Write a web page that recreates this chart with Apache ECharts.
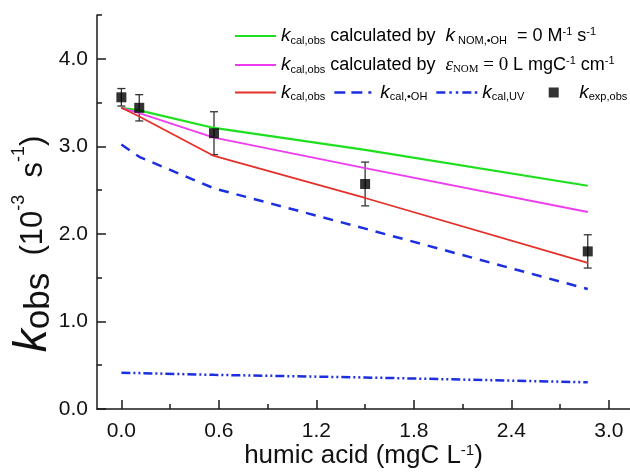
<!DOCTYPE html>
<html>
<head>
<meta charset="utf-8">
<script src="https://cdn.jsdelivr.net/npm/echarts@6/dist/echarts.min.js"></script>
<style>
  html, body { margin: 0; padding: 0; background: #fff; }
  #chart { width: 630px; height: 472px; }
</style>
</head>
<body>
<div id="chart"></div>
<script>
// humic acid concentrations (mgC/L)
const haConc = [0, 0.11, 0.57, 1.5, 2.87];

// model curves (10^-3 s^-1)
const kNoOH = [3.44, 3.41, 3.21, 2.96, 2.55];   // k_NOM,OH = 0
const kNoUV = [3.44, 3.38, 3.10, 2.75, 2.25];   // eps_NOM = 0
const kCalObs = [3.44, 3.34, 2.89, 2.41, 1.67];
const kCalOH = [3.02, 2.88, 2.52, 2.06, 1.37];
const kCalUV = [0.415, 0.41, 0.39, 0.36, 0.305];

// experiment
const kExp = [3.56, 3.44, 3.15, 2.57, 1.80];
const kExpErr = [0.10, 0.15, 0.245, 0.25, 0.19];

const xTicks = [0, 0.6, 1.2, 1.8, 2.4, 3.0];
const xMinor = [0.3, 0.9, 1.5, 2.1, 2.7];
const yTicks = [0, 1, 2, 3, 4];
const yMinor = [0.5, 1.5, 2.5, 3.5, 4.5];

const FONT = "Liberation Sans";

function pairs(ys) {
  return haConc.map((x, i) => [x, ys[i]]);
}

// legend icons drawn as paths in a 41x10 box (tiny corner specks fix the box size)
const BOX = "M0,0L0.01,0L0.01,0.01Z M41,10L40.99,10L40.99,9.99Z ";
const icons = {
  solid: "path://" + BOX + "M0,4H41V6H0Z",
  solidThick: "path://" + BOX + "M0,3.9H41V6.1H0Z",
  dash: "path://" + BOX + "M0,3.75H11V6.25H0Z M17,3.75H28V6.25H17Z M34,3.75H37V6.25H34Z",
  dashDot: "path://" + BOX + "M0,3.75H9V6.25H0Z M13,3.75H15.5V6.25H13Z M19.5,3.75H22V6.25H19.5Z M26,3.75H35V6.25H26Z M38.5,3.75H41V6.25H38.5Z",
  square: "path://" + BOX + "M15.5,0H25.5V10H15.5Z"
};

const chart = echarts.init(document.getElementById("chart"), null, { renderer: "canvas" });

const richLegend = {
  k: { fontFamily: FONT, fontStyle: "italic", fontSize: 19, color: "#000" },
  sub: { fontFamily: FONT, fontSize: 11, color: "#000", verticalAlign: "bottom", padding: [9, 0, 0, 0] },
  sup: { fontFamily: FONT, fontSize: 11, color: "#000", verticalAlign: "top", padding: [0, 0, 7, 0] },
  t: { fontFamily: FONT, fontSize: 18, color: "#000" },
  eps: { fontFamily: "Liberation Serif", fontStyle: "italic", fontSize: 19, color: "#000" },
  subs: { fontFamily: "Liberation Serif", fontSize: 11, color: "#000", verticalAlign: "bottom", padding: [9, 0, 0, 0] },
  serif: { fontFamily: "Liberation Serif", fontSize: 19, color: "#000" }
};

const legendNames = {
  noOH: "{k|k}{sub|cal,obs}{t| calculated by  }{k|k}{sub| NOM,•OH}{t|  = 0 M}{sup|-1}{t| s}{sup|-1}",
  noUV: "{k|k}{sub|cal,obs}{t| calculated by  }{eps|ε}{subs|NOM}{serif| = 0 }{t|L mgC}{sup|-1}{t| cm}{sup|-1}",
  calObs: "{k|k}{sub|cal,obs}",
  calOH: "{k|k}{sub|cal,•OH}",
  calUV: "{k|k}{sub|cal,UV}",
  exp: "{k|k}{sub|exp,obs}"
};

function legendBox(items, top) {
  return {
    data: items,
    left: 230,
    top: top,
    width: 400,
    padding: [5, 0, 5, 5],
    orient: "horizontal",
    itemWidth: 41,
    itemHeight: 10,
    itemGap: 9,
    selectedMode: false,
    formatter: (n) => legendNames[n],
    textStyle: { rich: richLegend, fontFamily: FONT, fontSize: 18, color: "#000" }
  };
}

const baseAxis = {
  axisLine: { show: true, onZero: false, lineStyle: { color: "#1a1a1a", width: 1.5 } },
  splitLine: { show: false }
};

const gridBox = { left: 97, right: 0, top: 15, bottom: 63, containLabel: false, outerBoundsMode: "none" };

chart.setOption({
  animation: false,
  backgroundColor: "#fff",
  grid: [Object.assign({}, gridBox), Object.assign({}, gridBox)],
  legend: [
    legendBox([{ name: "noOH", icon: icons.solidThick }], 21),
    legendBox([{ name: "noUV", icon: icons.solid }], 50),
    legendBox([
      { name: "calObs", icon: icons.solid },
      { name: "calOH", icon: icons.dash },
      { name: "calUV", icon: icons.dashDot },
      { name: "exp", icon: icons.square }
    ], 78)
  ],
  xAxis: [
    Object.assign({}, baseAxis, {
      type: "value",
      gridIndex: 0,
      min: -0.15,
      max: 3.13,
      axisTick: { inside: true, length: 9, customValues: xTicks, lineStyle: { color: "#1a1a1a", width: 1.5 } },
      axisLabel: {
        customValues: xTicks,
        margin: 12,
        formatter: (v) => v.toFixed(1),
        fontFamily: FONT, fontSize: 21, color: "#111"
      },
      name: "humic acid (mgC L{sup|-1})",
      nameLocation: "middle",
      nameGap: 34,
      nameMoveOverlap: false,
      nameTextStyle: {
        fontFamily: FONT, fontSize: 26, color: "#111",
        rich: { sup: { fontFamily: FONT, fontSize: 15, color: "#111", verticalAlign: "top", padding: [0, 0, 10, 0] } }
      }
    }),
    {
      type: "value",
      gridIndex: 1,
      min: -0.15,
      max: 3.13,
      axisLine: { show: false, onZero: false },
      splitLine: { show: false },
      axisLabel: { show: false },
      axisTick: { inside: true, length: 5, customValues: xMinor, lineStyle: { color: "#1a1a1a", width: 1.5 } }
    }
  ],
  yAxis: [
    Object.assign({}, baseAxis, {
      type: "value",
      gridIndex: 0,
      min: 0,
      max: 4.5,
      axisTick: { inside: true, length: 9, customValues: yTicks, lineStyle: { color: "#1a1a1a", width: 1.5 } },
      axisLabel: {
        customValues: yTicks,
        margin: 9,
        formatter: (v) => v.toFixed(1),
        fontFamily: FONT, fontSize: 21, color: "#111"
      },
      name: "{k|k}{obs|obs}{p|  (10}{sup|-3}{p|  s}{sup|-1}{end|)}",
      nameLocation: "middle",
      nameGap: 40,
      nameRotate: 90,
      nameMoveOverlap: false,
      nameTextStyle: {
        rich: {
          k: { fontFamily: FONT, fontStyle: "italic", fontSize: 46, color: "#111" },
          obs: { fontFamily: FONT, fontSize: 35, color: "#111", verticalAlign: "bottom", padding: [12, 0, 0, 0] },
          p: { fontFamily: FONT, fontSize: 31, color: "#111" },
          sup: { fontFamily: FONT, fontSize: 18, color: "#111", verticalAlign: "top", padding: [0, 0, 12, 0] },
          end: { fontFamily: FONT, fontSize: 31, color: "#111", padding: [0, 64, 0, 0] }
        }
      }
    }),
    {
      type: "value",
      gridIndex: 1,
      min: 0,
      max: 4.5,
      axisLine: { show: false, onZero: false },
      splitLine: { show: false },
      axisLabel: { show: false },
      axisTick: { inside: true, length: 5, customValues: yMinor, lineStyle: { color: "#1a1a1a", width: 1.5 } }
    }
  ],
  series: [
    {
      name: "noOH", type: "line", data: pairs(kNoOH), symbol: "none",
      lineStyle: { color: "#1ee01e", width: 2.2 }, itemStyle: { color: "#1ee01e" }
    },
    {
      name: "noUV", type: "line", data: pairs(kNoUV), symbol: "none",
      lineStyle: { color: "#ee3cee", width: 1.8 }, itemStyle: { color: "#ee3cee" }
    },
    {
      name: "calObs", type: "line", data: pairs(kCalObs), symbol: "none",
      lineStyle: { color: "#e5302a", width: 1.8 }, itemStyle: { color: "#e5302a" }
    },
    {
      name: "calOH", type: "line", data: pairs(kCalOH), symbol: "none",
      lineStyle: { color: "#1b2fe0", width: 2.5, type: [10, 8] }, itemStyle: { color: "#1b2fe0" }
    },
    {
      name: "calUV", type: "line", data: pairs(kCalUV), symbol: "none",
      lineStyle: { color: "#1b2fe0", width: 2.5, type: [9, 3, 2, 3, 2, 3] }, itemStyle: { color: "#1b2fe0" }
    },
    {
      // error bars
      type: "custom",
      silent: true,
      data: haConc.map((x, i) => [x, kExp[i] - kExpErr[i], kExp[i] + kExpErr[i]]),
      renderItem: (params, api) => {
        const lo = api.coord([api.value(0), api.value(1)]);
        const hi = api.coord([api.value(0), api.value(2)]);
        const cap = 4;
        const st = { stroke: "#333", lineWidth: 1.3 };
        return {
          type: "group",
          children: [
            { type: "line", shape: { x1: lo[0], y1: lo[1], x2: hi[0], y2: hi[1] }, style: st },
            { type: "line", shape: { x1: lo[0] - cap, y1: lo[1], x2: lo[0] + cap, y2: lo[1] }, style: st },
            { type: "line", shape: { x1: hi[0] - cap, y1: hi[1], x2: hi[0] + cap, y2: hi[1] }, style: st }
          ]
        };
      },
      z: 3
    },
    {
      name: "exp", type: "scatter", data: pairs(kExp), symbol: "rect", symbolSize: 10,
      itemStyle: { color: "#000" }, z: 4
    }
  ]
});
</script>
</body>
</html>
